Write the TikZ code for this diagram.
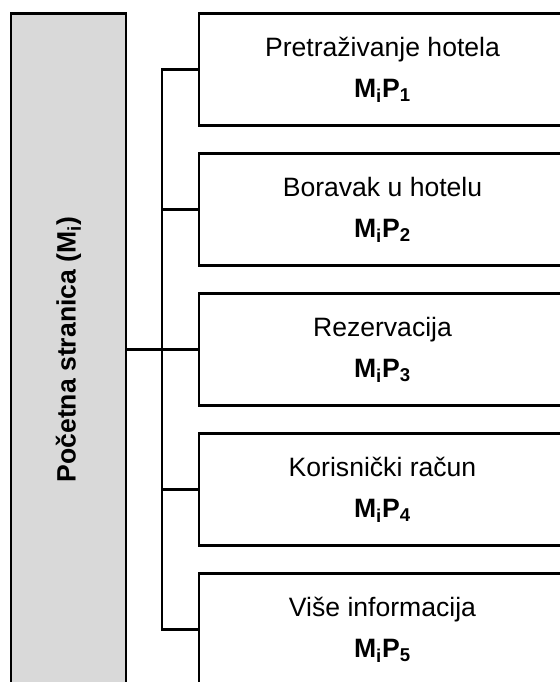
\documentclass[tikz,border=0pt]{standalone}
\usepackage{fontspec}
\setmainfont{Liberation Sans}
\usepackage{xcolor}
\usepackage{tikz}
\usetikzlibrary{positioning, calc}
\definecolor{PageGray}{RGB}{217,217,217}

\begin{document}
\begin{tikzpicture}[
          pg/.style={rectangle, draw=black, line width=1.6pt,
                     minimum width=9.175cm, minimum height=2.8cm,
                     align=center, inner sep=0pt,
                     font=\fontsize{18.9}{29.2}\selectfont},
          lnk/.style={draw=black, line width=1.6pt}
        ]
        \useasboundingbox (0,0) rectangle (14,17.05);
        \clip (0,0) rectangle (14,17.05);

        \node[rectangle, draw=black, line width=1.6pt, fill=PageGray,
              minimum width=2.875cm, minimum height=16.8cm,
              inner sep=0pt] (home) at (1.7125, 8.3125) {};
        \node[rotate=90, font=\fontsize{18.9}{22}\selectfont\bfseries]
              at (home.center) {Početna stranica (M\textsubscript{i})};

        \node[pg] (p1) at (9.5625, 15.3125)
              {Pretraživanje hotela\\\textbf{M\textsubscript{i}P\textsubscript{1}}};
        \node[pg] (p2) at (9.5625, 11.8125)
              {Boravak u hotelu\\\textbf{M\textsubscript{i}P\textsubscript{2}}};
        \node[pg] (p3) at (9.5625, 8.3125)
              {Rezervacija\\\textbf{M\textsubscript{i}P\textsubscript{3}}};
        \node[pg] (p4) at (9.5625, 4.8125)
              {Korisnički račun\\\textbf{M\textsubscript{i}P\textsubscript{4}}};
        \node[pg] (p5) at (9.5625, 1.3125)
              {Više informacija\\\textbf{M\textsubscript{i}P\textsubscript{5}}};

        \coordinate (bus) at (4.05, 8.3125);
        \draw[lnk] (home.east) -- (p3.west);
        \draw[lnk] (p1.west) -- (p1.west -| bus) -- (p5.west -| bus)
              -- (p5.west);
        \foreach \i in {2,4}
          \draw[lnk] (p\i.west) -- (p\i.west -| bus);
      \end{tikzpicture}
\end{document}
